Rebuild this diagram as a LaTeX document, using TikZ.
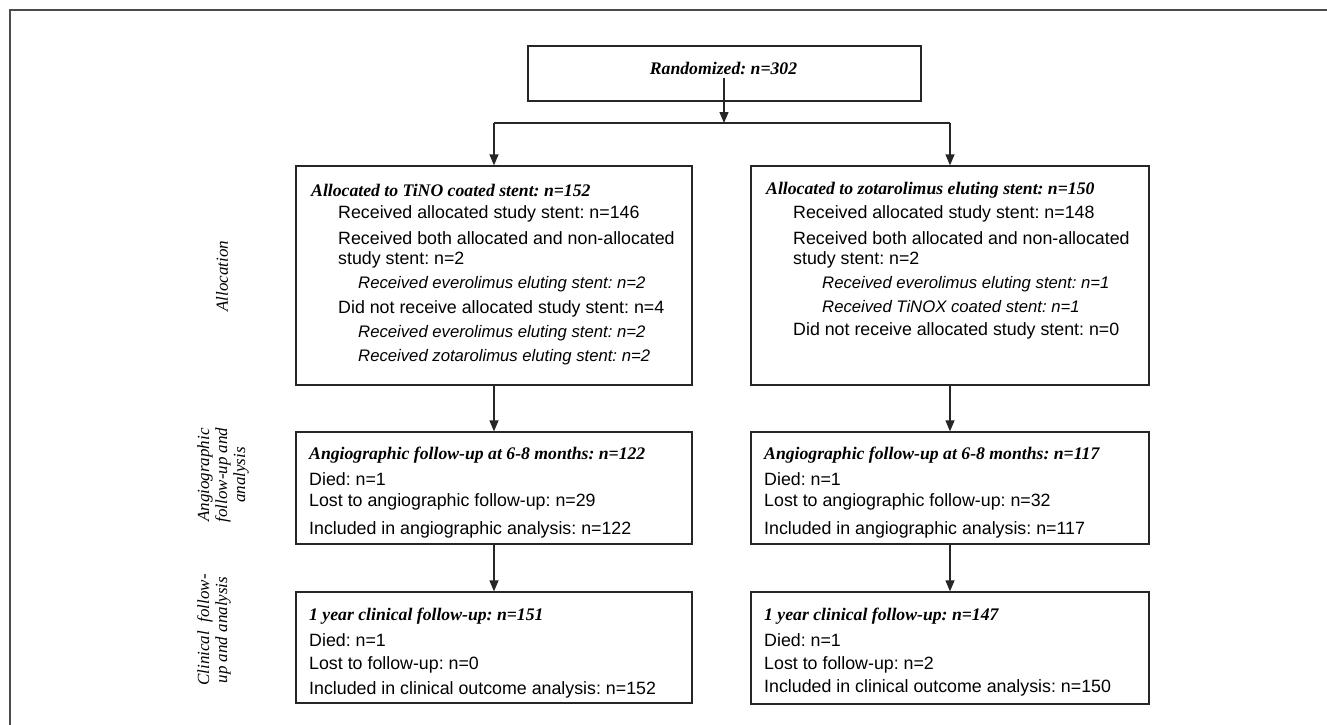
\documentclass[tikz,border=0pt]{standalone}
\usepackage{fontspec}
\setmainfont{Liberation Serif}
\setsansfont{Liberation Sans}
\usetikzlibrary{arrows.meta}
\tikzset{
  box/.style={draw=black!85, line width=1.3pt, inner sep=0pt},
  arr/.style={draw=black!85, line width=1.3pt, -{Triangle[width=9pt,length=11pt]}},
  conn/.style={draw=black!85, line width=1.3pt},
  ttl/.style={anchor=west, inner sep=0pt, font=\fontsize{17.7}{20}\selectfont\frenchspacing\rmfamily\bfseries\itshape},
  txt/.style={anchor=west, inner sep=0pt, font=\fontsize{17.8}{20}\selectfont\frenchspacing\sffamily},
  itx/.style={anchor=west, inner sep=0pt, font=\fontsize{16.7}{19}\selectfont\frenchspacing\sffamily\itshape},
  side/.style={rotate=90, align=center, inner sep=0pt, font=\fontsize{17}{18}\selectfont\rmfamily\itshape}
}
\begin{document}
\begin{tikzpicture}[x=1pt,y=-1pt]
\useasboundingbox (0,0) rectangle (1327,725);
% outer frame (top and left only)
\draw[draw=black!70, line width=1.3pt] (10,725) -- (10,10) -- (1327,10);

% boxes
\node[box, minimum width=393pt, minimum height=55pt] (rand) at (724.5,73.5) {};
\node[box, minimum width=396pt, minimum height=219pt] (a1) at (494,275.5) {};
\node[box, minimum width=398pt, minimum height=219pt] (a2) at (950,275.5) {};
\node[box, minimum width=396pt, minimum height=112pt] (b1) at (494,488) {};
\node[box, minimum width=398pt, minimum height=112pt] (b2) at (950,488) {};
\node[box, minimum width=396pt, minimum height=111pt] (c1) at (494,647.5) {};
\node[box, minimum width=398pt, minimum height=112pt] (c2) at (950,648) {};

% randomized text
\node[ttl, anchor=center] (randt) at (723.5,68) {Randomized: n=302};

% connectors
\coordinate (rs) at (724,78);
\coordinate (j) at (724,123);
\draw[arr] (rs) -- (j);
\draw[conn] (a1.north |- j) -- (a2.north |- j);
\draw[arr] (a1.north |- j) -- (a1.north);
\draw[arr] (a2.north |- j) -- (a2.north);
\draw[arr] (a1.south) -- (b1.north);
\draw[arr] (a2.south) -- (b2.north);
\draw[arr] (b1.south) -- (c1.north);
\draw[arr] (b2.south) -- (c2.north);

% side labels
\node[side] (s1) at (222,276) {Allocation};
\node[side] (s2) at (223,475) {Angiographic\\follow-up and\\analysis};
\node[side] (s3) at (214,630) {Clinical\ \ follow-\\up and analysis};

% left allocation box
\node[ttl] (a1t) at (311,190) {Allocated to TiNO coated stent: n=152};
\node[txt] (a1l1) at (338,214) {Received allocated study stent: n=146};
\node[txt] (a1l2) at (338,238) {Received both allocated and non-allocated};
\node[txt] (a1l3) at (338,260) {study stent: n=2};
\node[itx] (a1l4) at (358,284) {Received everolimus eluting stent: n=2};
\node[txt] (a1l5) at (338,309) {Did not receive allocated study stent: n=4};
\node[itx] (a1l6) at (358,333) {Received everolimus eluting stent: n=2};
\node[itx] (a1l7) at (358,357) {Received zotarolimus eluting stent: n=2};

% right allocation box
\node[ttl] (a2t) at (766,190) {Allocated to zotarolimus eluting stent: n=150};
\node[txt] (a2l1) at (793,214) {Received allocated study stent: n=148};
\node[txt] (a2l2) at (793,238) {Received both allocated and non-allocated};
\node[txt] (a2l3) at (793,260) {study stent: n=2};
\node[itx] (a2l4) at (822,284) {Received everolimus eluting stent: n=1};
\node[itx] (a2l5) at (822,307) {Received TiNOX coated stent: n=1};
\node[txt] (a2l6) at (793,331) {Did not receive allocated study stent: n=0};

% angiographic boxes
\node[ttl] (b1t) at (309,455) {Angiographic follow-up at 6-8 months: n=122};
\node[txt] (b1l1) at (309,479) {Died: n=1};
\node[txt] (b1l2) at (309,502) {Lost to angiographic follow-up: n=29};
\node[txt] (b1l3) at (309,530) {Included in angiographic analysis: n=122};

\node[ttl] (b2t) at (764,455) {Angiographic follow-up at 6-8 months: n=117};
\node[txt] (b2l1) at (764,479) {Died: n=1};
\node[txt] (b2l2) at (764,502) {Lost to angiographic follow-up: n=32};
\node[txt] (b2l3) at (764,530) {Included in angiographic analysis: n=117};

% clinical boxes
\node[ttl] (c1t) at (309,616) {1 year clinical follow-up: n=151};
\node[txt] (c1l1) at (309,640) {Died: n=1};
\node[txt] (c1l2) at (309,665) {Lost to follow-up: n=0};
\node[txt] (c1l3) at (309,690) {Included in clinical outcome analysis: n=152};

\node[ttl] (c2t) at (764,616) {1 year clinical follow-up: n=147};
\node[txt] (c2l1) at (764,640) {Died: n=1};
\node[txt] (c2l2) at (764,665) {Lost to follow-up: n=2};
\node[txt] (c2l3) at (764,688) {Included in clinical outcome analysis: n=150};
\end{tikzpicture}
\end{document}
